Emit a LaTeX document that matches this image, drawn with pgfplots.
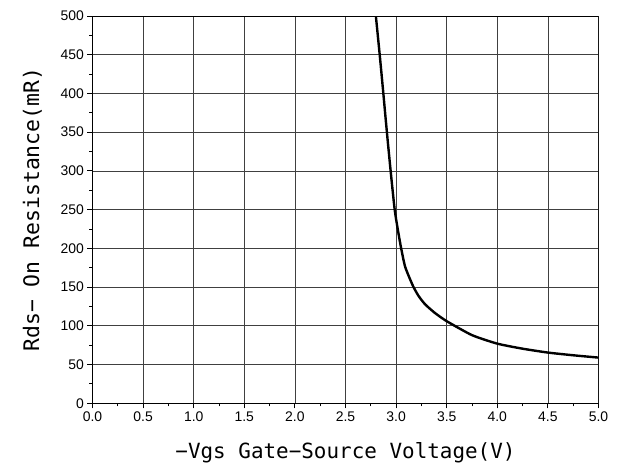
\documentclass[border=0pt]{standalone}
\usepackage{fontspec}
\setmainfont{Liberation Sans}
\newfontfamily\labelfont{DejaVu Sans Mono}
\usepackage{pgfplots}
\pgfplotsset{compat=1.18}
\begin{document}
\begin{tikzpicture}
\begin{axis}[
  scale only axis,
  width=506bp, height=387.3bp,
  xmin=0, xmax=5, ymin=0, ymax=500,
  xtick={0,0.5,...,5}, ytick={0,50,...,500},
  minor x tick num=1, minor y tick num=1,
  axis x line*=bottom, axis y line*=left,
  axis line style={line width=1.2bp, -},
  tick align=outside,
  major tick length=5bp, minor tick length=3bp,
  tick style={black, line width=0.9bp},
  xticklabel style={/pgf/number format/.cd, fixed, fixed zerofill, precision=1},
  /pgf/number format/assume math mode=true,
  ticklabel style={font=\fontsize{14}{16}\selectfont},
  grid=major,
  major grid style={black!75, line width=0.8bp},
  xlabel={\labelfont\fontsize{21}{23}\selectfont −Vgs Gate−Source Voltage(V)},
  ylabel={\labelfont\fontsize{21.5}{23}\selectfont Rds− On Resistance(mR)},
  xlabel style={yshift=-14bp},
  ylabel style={yshift=12bp},
  clip=true,
]
\addplot[black, line width=2.4bp, smooth, tension=0.35] coordinates {
(2.80,500) (2.838,450) (2.874,400) (2.909,350) (2.946,300) (2.986,250)
(3.02,222) (3.05,200) (3.09,176) (3.165,152) (3.22,139) (3.285,128) (3.38,117)
(3.5,106) (3.75,88) (4.0,77) (4.25,70.5) (4.5,65.5) (4.75,62) (5.0,59)
};
% right and top frame
\draw[black, line width=1.2bp] (rel axis cs:0,1) -- (rel axis cs:1,1) -- (rel axis cs:1,0);
\end{axis}
\pgfresetboundingbox
\path[use as bounding box] (-92.5bp,-62.7bp) rectangle (528.5bp,403.3bp);
\end{tikzpicture}
\end{document}
